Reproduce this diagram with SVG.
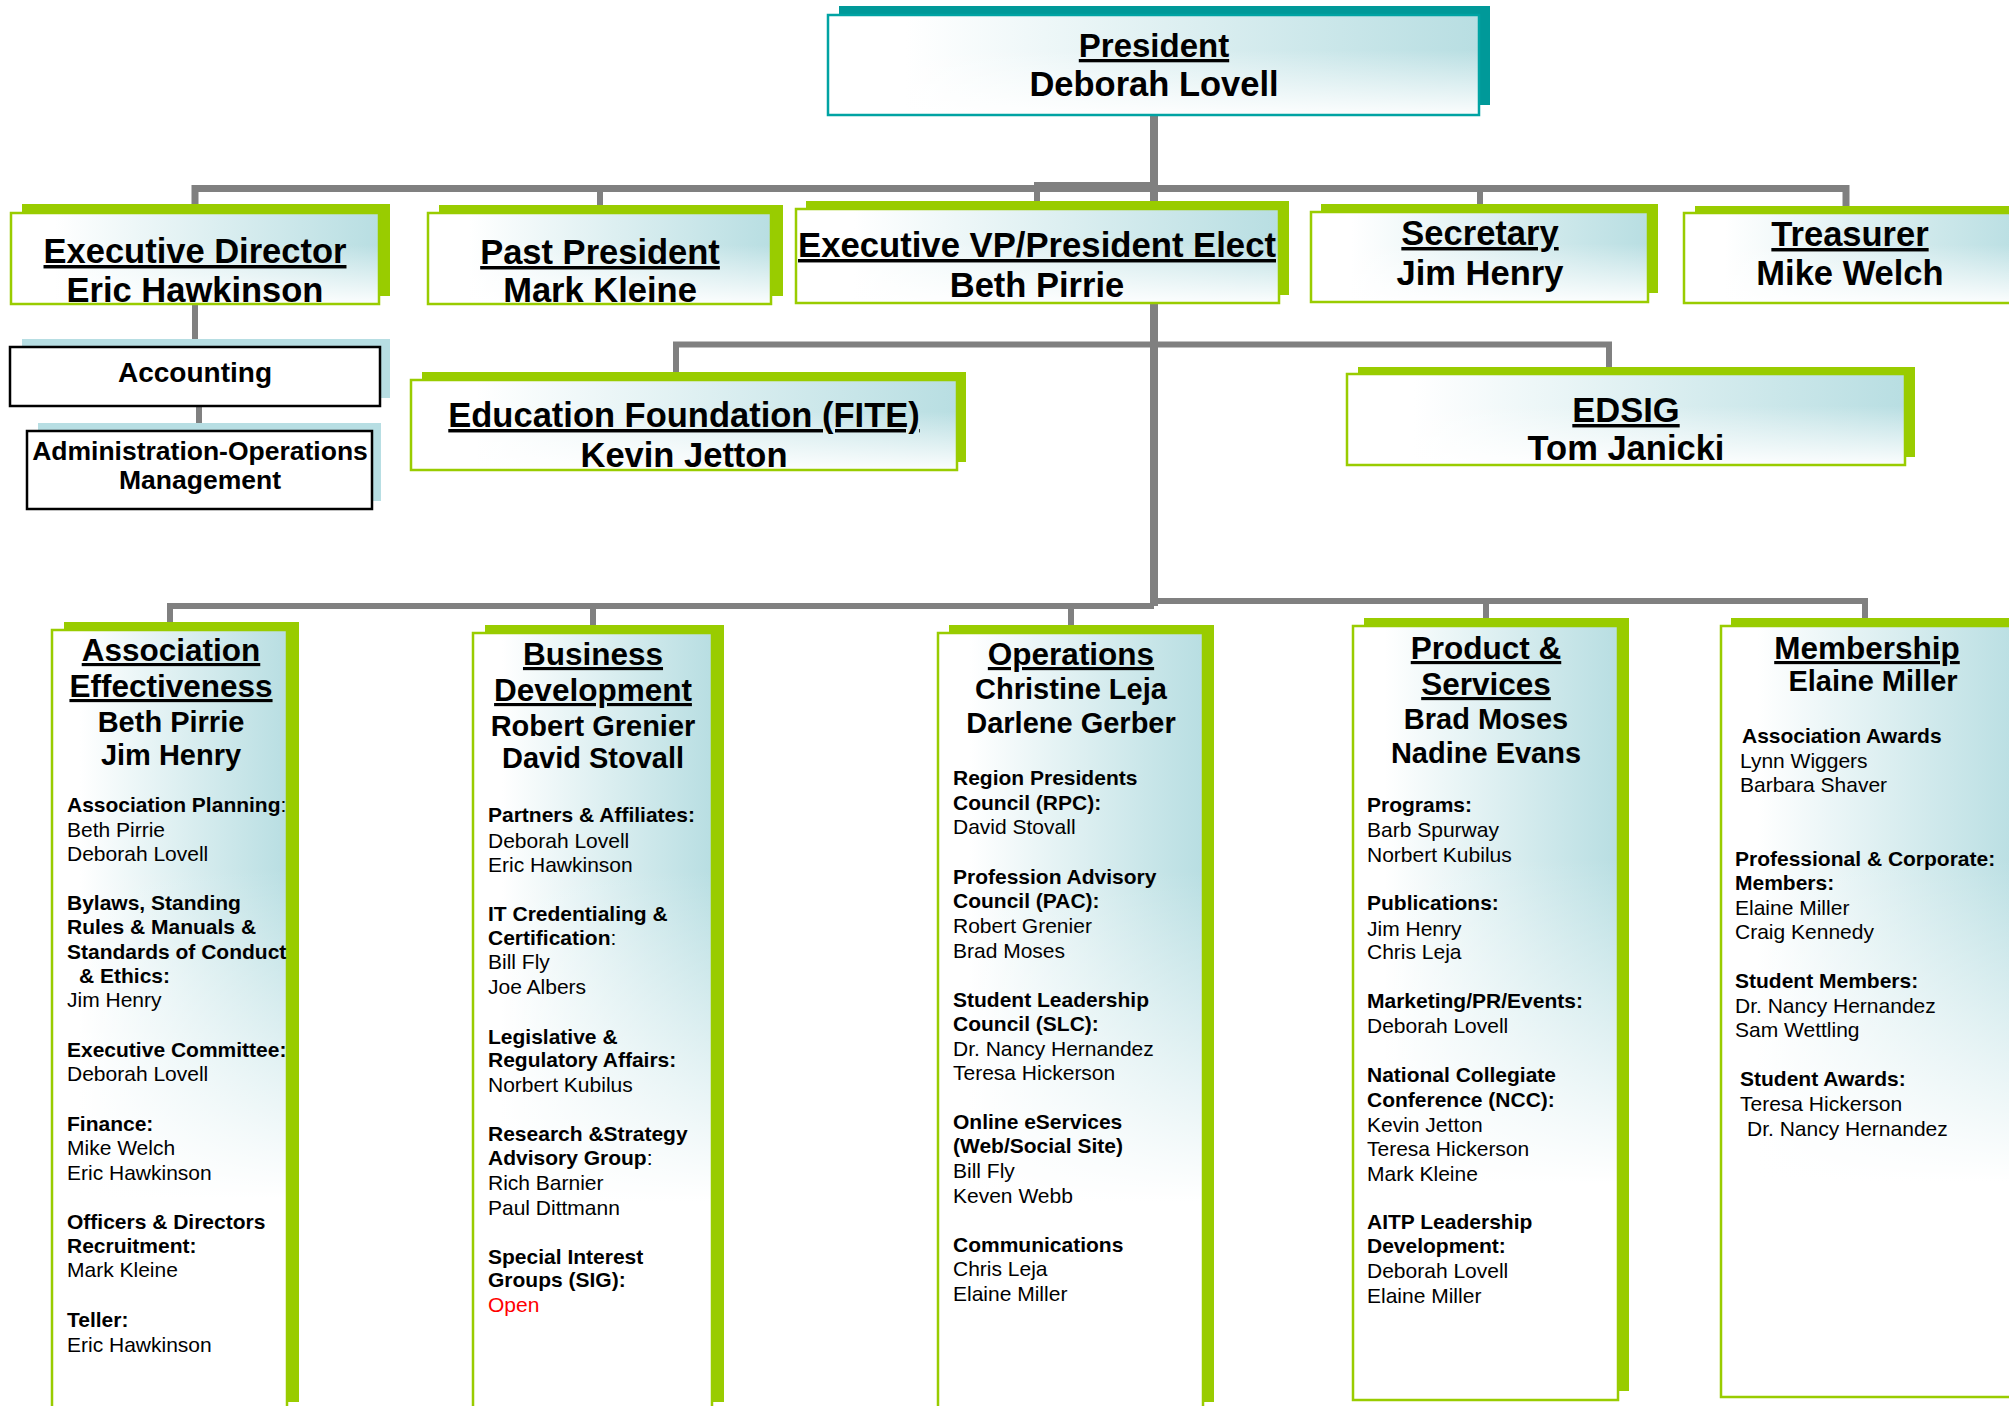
<svg xmlns="http://www.w3.org/2000/svg" width="2009" height="1406" viewBox="0 0 2009 1406">
<defs>
<linearGradient id="gx" x1="0" y1="0" x2="1" y2="0">
<stop offset="0" stop-color="#FFFFFF"/><stop offset="0.12" stop-color="#FFFFFF"/><stop offset="1" stop-color="#B8DEE2"/>
</linearGradient>
<linearGradient id="fadeS" x1="0" y1="0" x2="0" y2="1">
<stop offset="0" stop-color="#FFFFFF" stop-opacity="0"/><stop offset="0.35" stop-color="#FFFFFF" stop-opacity="0"/><stop offset="1" stop-color="#FFFFFF" stop-opacity="0.95"/>
</linearGradient>
<linearGradient id="fadeT" x1="0" y1="0" x2="0" y2="1">
<stop offset="0" stop-color="#FFFFFF" stop-opacity="0"/><stop offset="0.3" stop-color="#FFFFFF" stop-opacity="0"/><stop offset="0.72" stop-color="#FFFFFF" stop-opacity="1"/><stop offset="1" stop-color="#FFFFFF" stop-opacity="1"/>
</linearGradient>
<clipPath id="clipA"><rect x="52" y="630" width="235" height="790"/></clipPath>
</defs>
<style>
text{font-family:"Liberation Sans",Arial,Helvetica,sans-serif;}
.h{font-weight:bold;font-size:34.5px;text-anchor:middle;fill:#000;}
.h2{font-weight:bold;font-size:31.5px;text-anchor:middle;fill:#000;}
.n2{font-weight:bold;font-size:29px;text-anchor:middle;fill:#000;}
.u{text-decoration:underline;}
.b{font-weight:bold;font-size:21px;fill:#000;}
.r{font-weight:normal;font-size:21px;fill:#000;}
.red{fill:#FF0000;}
.shG{fill:#99CC00;}
.shT{fill:#009999;}
.shB{fill:#B7DEE3;}
.fg{fill:url(#gx);}
.fs{fill:url(#fadeS);}
.ft{fill:url(#fadeT);}
.bG{fill:none;stroke:#99CC00;stroke-width:2.5;}
.bT{fill:none;stroke:#00A3A3;stroke-width:2.5;}
.bK{fill:#FFFFFF;stroke:#000;stroke-width:2.5;}
.c{fill:none;stroke:#808080;stroke-width:6;stroke-linejoin:miter;stroke-linecap:butt;}
</style>
<rect x="0" y="0" width="2009" height="1406" fill="#FFFFFF"/>

<g id="connectors">
<path class="c" d="M1154 115 V606" style="stroke-width:8"/>
<path class="c" d="M195 213 V188.5 H1846 V206" style="stroke-width:7"/>
<path class="c" d="M1034 185.5 H1154" style="stroke-width:7"/>
<path class="c" d="M600 188 V205"/>
<path class="c" d="M1037 185 V201"/>
<path class="c" d="M1480 188 V204"/>
<path class="c" d="M195 304 V347"/>
<path class="c" d="M199 406 V431"/>
<path class="c" d="M676 372 V344.5 H1609 V367"/>
<path class="c" d="M170 622 V606 H1154"/>
<path class="c" d="M593 606 V625"/>
<path class="c" d="M1071 606 V625"/>
<path class="c" d="M1154 601 H1865 V618"/>
<path class="c" d="M1486 601 V618"/>
</g>

<g id="president">
<rect class="shT" x="839" y="6" width="651" height="99"/>
<rect class="fg" x="828" y="15" width="651" height="100"/>
<rect class="fs" x="828" y="15" width="651" height="100"/>
<rect class="bT" x="828" y="15" width="651" height="100"/>
<text class="h u" x="1154" y="57" style="font-size:33px">President</text>
<text class="h" x="1154" y="96">Deborah Lovell</text>
</g>

<g id="executive-director">
<rect class="shG" x="22" y="204" width="368" height="92"/>
<rect class="fg" x="11" y="213" width="368" height="91"/>
<rect class="fs" x="11" y="213" width="368" height="91"/>
<rect class="bG" x="11" y="213" width="368" height="91"/>
<text class="h u" x="195" y="263">Executive Director</text>
<text class="h" x="195" y="302">Eric Hawkinson</text>
</g>

<g id="past-president">
<rect class="shG" x="439" y="205" width="344" height="91"/>
<rect class="fg" x="428" y="213" width="343" height="91"/>
<rect class="fs" x="428" y="213" width="343" height="91"/>
<rect class="bG" x="428" y="213" width="343" height="91"/>
<text class="h u" x="600" y="264">Past President</text>
<text class="h" x="600" y="302">Mark Kleine</text>
</g>

<g id="executive-vp">
<rect class="shG" x="806" y="201" width="483" height="94"/>
<rect class="fg" x="796" y="209" width="483" height="94"/>
<rect class="fs" x="796" y="209" width="483" height="94"/>
<rect class="bG" x="796" y="209" width="483" height="94"/>
<text class="h u" x="1037" y="257" textLength="478" lengthAdjust="spacingAndGlyphs">Executive VP/President Elect</text>
<text class="h" x="1037" y="297">Beth Pirrie</text>
</g>

<g id="secretary">
<rect class="shG" x="1321" y="204" width="337" height="89"/>
<rect class="fg" x="1311" y="212" width="337" height="90"/>
<rect class="fs" x="1311" y="212" width="337" height="90"/>
<rect class="bG" x="1311" y="212" width="337" height="90"/>
<text class="h u" x="1480" y="245">Secretary</text>
<text class="h" x="1480" y="285">Jim Henry</text>
</g>

<g id="treasurer">
<rect class="shG" x="1695" y="206" width="330" height="88"/>
<rect class="fg" x="1684" y="213" width="340" height="90"/>
<rect class="fs" x="1684" y="213" width="340" height="90"/>
<rect class="bG" x="1684" y="213" width="340" height="90"/>
<text class="h u" x="1850" y="246">Treasurer</text>
<text class="h" x="1850" y="285">Mike Welch</text>
</g>

<g id="accounting">
<rect class="shB" x="22" y="339" width="368" height="59"/>
<rect class="bK" x="10" y="347" width="370" height="59"/>
<text class="h" x="195" y="382" style="font-size:28px">Accounting</text>
</g>

<g id="admin-operations">
<rect class="shB" x="38" y="423" width="343" height="78"/>
<rect class="bK" x="27" y="431" width="345" height="78"/>
<text class="h" x="200" y="460" style="font-size:26.5px">Administration-Operations</text>
<text class="h" x="200" y="489" style="font-size:26.5px">Management</text>
</g>

<g id="education-foundation">
<rect class="shG" x="422" y="372" width="544" height="90"/>
<rect class="fg" x="411" y="380" width="546" height="90"/>
<rect class="fs" x="411" y="380" width="546" height="90"/>
<rect class="bG" x="411" y="380" width="546" height="90"/>
<text class="h u" x="684" y="427">Education Foundation (FITE)</text>
<text class="h" x="684" y="467">Kevin Jetton</text>
</g>

<g id="edsig">
<rect class="shG" x="1358" y="367" width="557" height="90"/>
<rect class="fg" x="1347" y="374" width="558" height="91"/>
<rect class="fs" x="1347" y="374" width="558" height="91"/>
<rect class="bG" x="1347" y="374" width="558" height="91"/>
<text class="h u" x="1626" y="422">EDSIG</text>
<text class="h" x="1626" y="460">Tom Janicki</text>
</g>

<g id="association-effectiveness">
<rect class="shG" x="64" y="622" width="235" height="780"/>
<rect class="fg" x="52" y="630" width="235" height="790"/>
<rect class="ft" x="52" y="630" width="235" height="790"/>
<rect class="bG" x="52" y="630" width="235" height="790"/>
<text class="h2 u" x="171" y="661">Association</text>
<text class="h2 u" x="171" y="697">Effectiveness</text>
<text class="n2" x="171" y="732">Beth Pirrie</text>
<text class="n2" x="171" y="765">Jim Henry</text>
<g clip-path="url(#clipA)">
<text class="b" x="67" y="812">Association Planning<tspan class="r">:</tspan></text>
<text class="r" x="67" y="837">Beth Pirrie</text>
<text class="r" x="67" y="861">Deborah Lovell</text>
<text class="b" x="67" y="910">Bylaws, Standing</text>
<text class="b" x="67" y="934">Rules &amp; Manuals &amp;</text>
<text class="b" x="67" y="959">Standards of Conduct</text>
<text class="b" x="79" y="983">&amp; Ethics:</text>
<text class="r" x="67" y="1007">Jim Henry</text>
<text class="b" x="67" y="1057">Executive Committee:</text>
<text class="r" x="67" y="1081">Deborah Lovell</text>
<text class="b" x="67" y="1131">Finance:</text>
<text class="r" x="67" y="1155">Mike Welch</text>
<text class="r" x="67" y="1180">Eric Hawkinson</text>
<text class="b" x="67" y="1229">Officers &amp; Directors</text>
<text class="b" x="67" y="1253">Recruitment:</text>
<text class="r" x="67" y="1277">Mark Kleine</text>
<text class="b" x="67" y="1327">Teller:</text>
<text class="r" x="67" y="1352">Eric Hawkinson</text>
</g>
</g>

<g id="business-development">
<rect class="shG" x="485" y="625" width="239" height="777"/>
<rect class="fg" x="473" y="633" width="239" height="790"/>
<rect class="ft" x="473" y="633" width="239" height="790"/>
<rect class="bG" x="473" y="633" width="239" height="790"/>
<text class="h2 u" x="593" y="665">Business</text>
<text class="h2 u" x="593" y="701">Development</text>
<text class="n2" x="593" y="736">Robert Grenier</text>
<text class="n2" x="593" y="768">David Stovall</text>
<text class="b" x="488" y="822">Partners &amp; Affiliates:</text>
<text class="r" x="488" y="848">Deborah Lovell</text>
<text class="r" x="488" y="872">Eric Hawkinson</text>
<text class="b" x="488" y="921">IT Credentialing &amp;</text>
<text class="b" x="488" y="945">Certification<tspan class="r">:</tspan></text>
<text class="r" x="488" y="969">Bill Fly</text>
<text class="r" x="488" y="994">Joe Albers</text>
<text class="b" x="488" y="1044">Legislative &amp;</text>
<text class="b" x="488" y="1067">Regulatory Affairs:</text>
<text class="r" x="488" y="1092">Norbert Kubilus</text>
<text class="b" x="488" y="1141">Research &amp;Strategy</text>
<text class="b" x="488" y="1165">Advisory Group<tspan class="r">:</tspan></text>
<text class="r" x="488" y="1190">Rich Barnier</text>
<text class="r" x="488" y="1215">Paul Dittmann</text>
<text class="b" x="488" y="1264">Special Interest</text>
<text class="b" x="488" y="1287">Groups (SIG):</text>
<text class="r red" x="488" y="1312">Open</text>
</g>

<g id="operations">
<rect class="shG" x="949" y="625" width="265" height="777"/>
<rect class="fg" x="938" y="633" width="265" height="790"/>
<rect class="ft" x="938" y="633" width="265" height="790"/>
<rect class="bG" x="938" y="633" width="265" height="790"/>
<text class="h2 u" x="1071" y="665">Operations</text>
<text class="n2" x="1071" y="699">Christine Leja</text>
<text class="n2" x="1071" y="733">Darlene Gerber</text>
<text class="b" x="953" y="785">Region Presidents</text>
<text class="b" x="953" y="810">Council (RPC):</text>
<text class="r" x="953" y="834">David Stovall</text>
<text class="b" x="953" y="884">Profession Advisory</text>
<text class="b" x="953" y="908">Council (PAC):</text>
<text class="r" x="953" y="933">Robert Grenier</text>
<text class="r" x="953" y="958">Brad Moses</text>
<text class="b" x="953" y="1007">Student Leadership</text>
<text class="b" x="953" y="1031">Council (SLC):</text>
<text class="r" x="953" y="1056">Dr. Nancy Hernandez</text>
<text class="r" x="953" y="1080">Teresa Hickerson</text>
<text class="b" x="953" y="1129">Online eServices</text>
<text class="b" x="953" y="1153">(Web/Social Site)</text>
<text class="r" x="953" y="1178">Bill Fly</text>
<text class="r" x="953" y="1203">Keven Webb</text>
<text class="b" x="953" y="1252">Communications</text>
<text class="r" x="953" y="1276">Chris Leja</text>
<text class="r" x="953" y="1301">Elaine Miller</text>
</g>

<g id="product-services">
<rect class="shG" x="1364" y="618" width="265" height="773"/>
<rect class="fg" x="1353" y="626" width="265" height="774"/>
<rect class="ft" x="1353" y="626" width="265" height="774"/>
<rect class="bG" x="1353" y="626" width="265" height="774"/>
<text class="h2 u" x="1486" y="659">Product &amp;</text>
<text class="h2 u" x="1486" y="695">Services</text>
<text class="n2" x="1486" y="729">Brad Moses</text>
<text class="n2" x="1486" y="763">Nadine Evans</text>
<text class="b" x="1367" y="812">Programs:</text>
<text class="r" x="1367" y="837">Barb Spurway</text>
<text class="r" x="1367" y="862">Norbert Kubilus</text>
<text class="b" x="1367" y="910">Publications:</text>
<text class="r" x="1367" y="936">Jim Henry</text>
<text class="r" x="1367" y="959">Chris Leja</text>
<text class="b" x="1367" y="1008">Marketing/PR/Events:</text>
<text class="r" x="1367" y="1033">Deborah Lovell</text>
<text class="b" x="1367" y="1082">National Collegiate</text>
<text class="b" x="1367" y="1107">Conference (NCC):</text>
<text class="r" x="1367" y="1132">Kevin Jetton</text>
<text class="r" x="1367" y="1156">Teresa Hickerson</text>
<text class="r" x="1367" y="1181">Mark Kleine</text>
<text class="b" x="1367" y="1229">AITP Leadership</text>
<text class="b" x="1367" y="1253">Development:</text>
<text class="r" x="1367" y="1278">Deborah Lovell</text>
<text class="r" x="1367" y="1303">Elaine Miller</text>
</g>

<g id="membership">
<rect class="shG" x="1731" y="618" width="300" height="770"/>
<rect class="fg" x="1721" y="626" width="300" height="771"/>
<rect class="ft" x="1721" y="626" width="300" height="771"/>
<rect class="bG" x="1721" y="626" width="300" height="771"/>
<text class="h2 u" x="1867" y="659">Membership</text>
<text class="n2" x="1873" y="691">Elaine Miller</text>
<text class="b" x="1742" y="743">Association Awards</text>
<text class="r" x="1740" y="768">Lynn Wiggers</text>
<text class="r" x="1740" y="792">Barbara Shaver</text>
<text class="b" x="1735" y="866">Professional &amp; Corporate:</text>
<text class="b" x="1735" y="890">Members:</text>
<text class="r" x="1735" y="915">Elaine Miller</text>
<text class="r" x="1735" y="939">Craig Kennedy</text>
<text class="b" x="1735" y="988">Student Members:</text>
<text class="r" x="1735" y="1013">Dr. Nancy Hernandez</text>
<text class="r" x="1735" y="1037">Sam Wettling</text>
<text class="b" x="1740" y="1086">Student Awards:</text>
<text class="r" x="1740" y="1111">Teresa Hickerson</text>
<text class="r" x="1747" y="1136">Dr. Nancy Hernandez</text>
</g>
</svg>
